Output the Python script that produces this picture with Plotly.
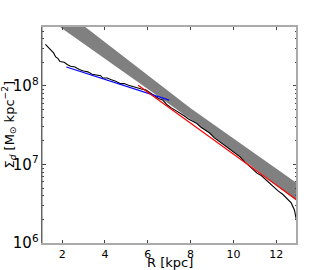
import plotly.graph_objects as go

# Model band (log-linear, pivot near R=8)
band_R = [1.0, 8.0, 13.0]
band_upper = [1.54e9, 5.21e7, 5.68e6]
band_lower = [8.38e8, 3.77e7, 3.36e6]

# Measured profile (black)
black_R = [1.22, 1.35, 1.5, 1.6, 1.7, 1.8, 1.9, 2.0, 2.1, 2.25, 2.4, 2.6, 2.8, 3.0, 3.2, 3.4,
           3.6, 3.8, 3.9, 4.1, 4.3, 4.5, 4.7, 4.9, 5.1, 5.3, 5.5, 5.7, 5.9, 6.1, 6.3, 6.5,
           6.7, 6.9, 7.1, 7.3, 7.5, 7.7, 7.9, 8.1, 8.3, 8.5, 8.7, 8.9, 9.1, 9.3, 9.5, 9.7,
           9.9, 10.1, 10.3, 10.5, 10.7, 10.9, 11.1, 11.3, 11.5, 11.7, 11.9, 12.1, 12.3,
           12.5, 12.7, 12.85, 12.95]
black_S = [3.39e8, 3.09e8, 2.75e8, 2.63e8, 2.34e8, 2.24e8, 2.04e8, 2.00e8, 2.00e8, 1.86e8,
           1.78e8, 1.74e8, 1.62e8, 1.55e8, 1.51e8, 1.41e8, 1.38e8, 1.35e8, 1.26e8, 1.26e8,
           1.20e8, 1.15e8, 1.07e8, 1.07e8, 1.02e8, 9.77e7, 9.55e7, 9.12e7, 8.91e7, 8.13e7,
           7.41e7, 6.92e7, 6.61e7, 5.75e7, 5.25e7, 4.90e7, 4.57e7, 4.17e7, 3.80e7, 3.55e7,
           3.31e7, 2.95e7, 2.75e7, 2.51e7, 2.19e7, 2.00e7, 1.86e7, 1.66e7, 1.51e7, 1.38e7,
           1.26e7, 1.10e7, 9.77e6, 8.71e6, 7.76e6, 7.24e6, 6.46e6, 5.62e6, 5.01e6, 4.57e6,
           4.17e6, 3.72e6, 3.24e6, 2.63e6, 1.91e6]

# Inner fit (blue)
blue_R = [2.2, 3.0, 4.0, 5.0, 6.0, 7.0]
blue_S = [1.74e8, 1.48e8, 1.21e8, 9.9e7, 8.1e7, 6.6e7]

# Outer fit (red)
red_R = [5.55, 12.95]
red_S = [1.02e8, 3.55e6]

x_ticks = [2, 4, 6, 8, 10, 12]
x_title = "R [kpc]"
y_title = "Σ<sub><i>d</i></sub> [M<sub>⊙</sub> kpc<sup>−2</sup>]"

fig = go.Figure()
fig.add_trace(go.Scatter(x=band_R, y=band_upper, mode="lines",
                         line=dict(width=0, color="#808080"), showlegend=False, hoverinfo="skip"))
fig.add_trace(go.Scatter(x=band_R, y=band_lower, mode="lines", fill="tonexty",
                         fillcolor="#808080", line=dict(width=0, color="#808080"),
                         showlegend=False, hoverinfo="skip"))
fig.add_trace(go.Scatter(x=black_R, y=black_S, mode="lines",
                         line=dict(color="black", width=1.1), showlegend=False))
fig.add_trace(go.Scatter(x=blue_R, y=blue_S, mode="lines",
                         line=dict(color="#0000ff", width=1.2), showlegend=False))
fig.add_trace(go.Scatter(x=red_R, y=red_S, mode="lines",
                         line=dict(color="#ff0000", width=1.2), showlegend=False))

font = "DejaVu Sans, sans-serif"
fig.update_layout(
    width=330, height=270,
    margin=dict(l=42, r=33, t=27, b=27, autoexpand=False),
    paper_bgcolor="white", plot_bgcolor="white",
    font=dict(family=font, size=12, color="black"),
    xaxis=dict(range=[1.06, 12.97], tickvals=x_ticks, ticks="inside", ticklen=3,
               tickcolor="#444", showline=True, mirror="ticks", linecolor="#aaaaaa",
               linewidth=2, showgrid=False, zeroline=False, automargin=False,
               tickfont=dict(size=11)),
    yaxis=dict(type="log", range=[6, 8.75], dtick=1, exponentformat="power",
               ticks="inside", ticklen=4, tickcolor="#444",
               minor=dict(ticks="inside", ticklen=2, tickcolor="#444"),
               showline=True, mirror="ticks", linecolor="#666666", linewidth=1,
               showgrid=False, zeroline=False, automargin=False,
               tickfont=dict(size=12)),
)
fig.add_annotation(text=x_title, xref="paper", yref="paper", x=0.5, y=-0.088,
                   xanchor="center", yanchor="middle", showarrow=False,
                   font=dict(size=13, family=font, color="black"))
fig.add_annotation(text=y_title, xref="paper", yref="paper", x=-0.128, y=0.55,
                   xanchor="center", yanchor="middle", showarrow=False, textangle=-90,
                   font=dict(size=13, family=font, color="black"))
fig.add_shape(type="line", xref="paper", yref="paper", x0=1, x1=1, y0=0, y1=1,
              line=dict(color="#aaaaaa", width=2))
fig.add_shape(type="line", xref="paper", yref="paper", x0=0, x1=0, y0=0, y1=1,
              line=dict(color="#666666", width=1))
fig.write_html("out.html", config={"displayModeBar": False},
               post_script="document.body.style.margin='0';document.body.style.overflow='hidden';")
